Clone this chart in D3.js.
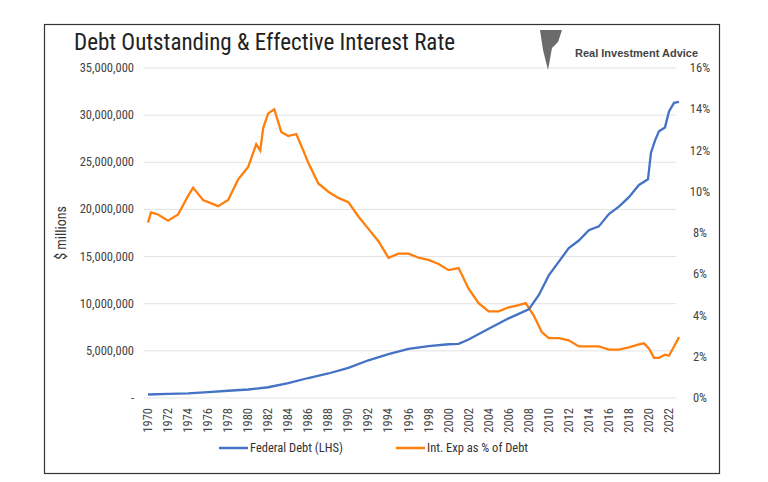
<!DOCTYPE html>
<html><head><meta charset="utf-8">
<script src="https://cdn.jsdelivr.net/npm/d3@7"></script>
<style>body{margin:0;background:#fff;font-family:"Liberation Sans Narrow","Roboto Condensed","Liberation Sans",sans-serif}</style>
</head><body><svg id="c" width="768" height="482"></svg>
<script>
// federal debt, $ millions
let debtYears = [1970,1972,1974,1976,1978,1980,1982,1984,1986,1988,1990,1992,1994,1996,1998,2000,2001,2002,2004,2006,2008,2009,2010,2012,2013,2014,2015,2016,2017,2018,2019,2019.9,2020.2,2020.6,2021,2021.6,2022,2022.5,2023];
let debtVals = [370000,430000,480000,620000,770000,900000,1140000,1570000,2120000,2600000,3200000,4000000,4650000,5200000,5500000,5700000,5750000,6200000,7350000,8450000,9400000,10900000,13000000,15900000,16700000,17800000,18200000,19500000,20300000,21300000,22600000,23200000,26000000,27300000,28300000,28700000,30400000,31300000,31400000];
// interest expense as % of debt
let rateYears = [1970,1970.3,1971,1972,1973,1974,1974.5,1975.5,1977,1978,1979,1980,1980.8,1981.2,1981.5,1982,1982.6,1983.3,1984,1984.8,1985.5,1986,1987,1988,1989,1990,1991,1992,1993,1994,1995,1996,1997,1998,1999,2000,2001,2002,2003,2004,2005,2006,2007,2007.7,2008.5,2009.3,2010,2011,2012,2013,2014,2015,2016,2017,2018,2019,2019.5,2020,2020.5,2021,2021.6,2022,2022.5,2023];
let rateVals = [8.5,9.0,8.9,8.6,8.9,9.8,10.2,9.6,9.3,9.6,10.6,11.2,12.3,12.0,13.1,13.8,14.0,12.9,12.7,12.8,12.0,11.4,10.4,10.0,9.7,9.5,8.8,8.2,7.6,6.8,7.0,7.0,6.8,6.7,6.5,6.2,6.3,5.3,4.6,4.2,4.2,4.4,4.5,4.6,4.0,3.2,2.9,2.9,2.8,2.5,2.5,2.5,2.35,2.35,2.45,2.6,2.65,2.4,1.95,1.95,2.1,2.05,2.5,2.95];
let leftTicks = [0,5000000,10000000,15000000,20000000,25000000,30000000,35000000];
let rightTicks = [0,2,4,6,8,10,12,14,16];
let yearLabels = d3.range(1970, 2023, 2);

let svg = d3.select('#c');
svg.append('rect').attr('x',44.5).attr('y',24.5).attr('width',675).attr('height',449)
    .attr('fill','none').attr('stroke','#333').attr('stroke-width',1.2);

let x = d3.scaleLinear().domain([1970,2022]).range([148,669]);
let yl = d3.scaleLinear().domain([0,35000000]).range([398,68]);
let yr = d3.scaleLinear().domain([0,16]).range([398,68]);

svg.append('g').selectAll('line').data(leftTicks).join('line')
    .attr('x1',144).attr('x2',676).attr('y1',d=>yl(d)).attr('y2',d=>yl(d))
    .attr('stroke','#e3e3e3');
svg.append('g').selectAll('text').data(leftTicks).join('text')
    .attr('x',134).attr('y',d=>yl(d)+4).attr('text-anchor','end')
    .attr('font-size',12.5).attr('fill','#444')
    .text(d => d === 0 ? '-' : d3.format(',')(d));
svg.append('g').selectAll('text').data(rightTicks).join('text')
    .attr('x',700).attr('y',d=>yr(d)+4).attr('text-anchor','middle')
    .attr('font-size',12.5).attr('fill','#444').text(d => d + '%');
svg.append('g').selectAll('text').data(yearLabels).join('text')
    .attr('transform',d=>`translate(${x(d)+4},408) rotate(-90)`).attr('text-anchor','end')
    .attr('font-size',12.5).attr('fill','#444').text(d=>d);

svg.append('text').attr('transform','translate(66,233) rotate(-90)').attr('text-anchor','middle')
    .attr('font-size',14).attr('fill','#333').text('$ millions');

svg.append('path').datum(d3.zip(rateYears, rateVals)).attr('fill','none')
    .attr('stroke','#ff7f0e').attr('stroke-width',2.3)
    .attr('d', d3.line().x(d=>x(d[0])).y(d=>yr(d[1])));
svg.append('path').datum(d3.zip(debtYears, debtVals)).attr('fill','none')
    .attr('stroke','#4472c4').attr('stroke-width',2.3)
    .attr('d', d3.line().x(d=>x(d[0])).y(d=>yl(d[1])));

svg.append('text').attr('x',74).attr('y',50).attr('font-size',23).attr('fill','#222')
    .text('Debt Outstanding & Effective Interest Rate');
svg.append('path').attr('d','M540,30 L562,30 L558,42 L552,48 L548,70 L543,50 Z').attr('fill','#6b6b6b');
svg.append('text').attr('x',575).attr('y',57).attr('font-size',11).attr('font-weight','bold')
    .attr('fill','#444').attr('font-family','"Liberation Sans",sans-serif').text('Real Investment Advice');

let legend = [['Federal Debt (LHS)','#4472c4',219],['Int. Exp as % of Debt','#ff7f0e',396]];
legend.forEach(l => {
    svg.append('line').attr('x1',l[2]).attr('x2',l[2]+29).attr('y1',448).attr('y2',448)
        .attr('stroke',l[1]).attr('stroke-width',2.5);
    svg.append('text').attr('x',l[2]+31).attr('y',452).attr('font-size',12.5)
        .attr('fill','#333').text(l[0]);
});
</script></body></html>
